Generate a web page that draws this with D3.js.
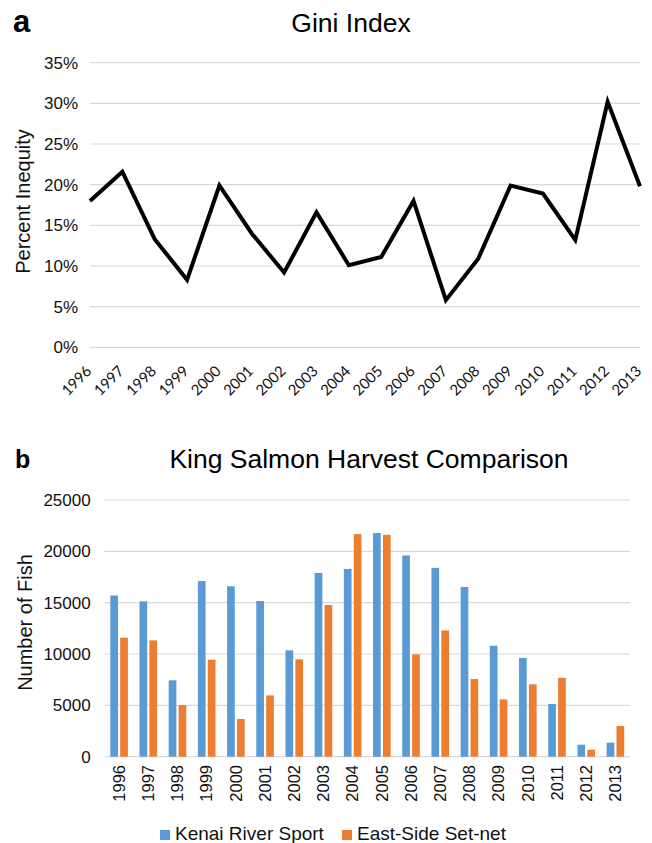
<!DOCTYPE html>
<html>
<head>
<meta charset="utf-8">
<script src="https://cdn.jsdelivr.net/npm/d3@7"></script>
<style>
  html, body { margin: 0; padding: 0; background: #fff; }
  svg { display: block; font-family: "Liberation Sans", Arial, Helvetica, sans-serif; }
</style>
</head>
<body>
<svg id="chart" width="652" height="843"></svg>
<script>
// ---- data ----
const years = ["1996","1997","1998","1999","2000","2001","2002","2003","2004","2005","2006","2007","2008","2009","2010","2011","2012","2013"];
const giniPercent = [18.0, 21.6, 13.3, 8.3, 19.9, 14.0, 9.2, 16.6, 10.1, 11.1, 18.0, 5.8, 10.9, 19.9, 18.9, 13.2, 30.2, 19.8];
const giniTicks = [0, 5, 10, 15, 20, 25, 30, 35];
const kenaiSport = [15700, 15130, 7440, 17100, 16600, 15160, 10360, 17900, 18290, 21780, 19600, 18390, 16530, 10810, 9610, 5130, 1170, 1360];
const eastSideSetnet = [11590, 11330, 5030, 9450, 3670, 5970, 9480, 14770, 21680, 21610, 9970, 12300, 7560, 5580, 7050, 7690, 680, 2990];
const harvestTicks = [0, 5000, 10000, 15000, 20000, 25000];
const seriesNames = ["Kenai River Sport", "East-Side Set-net"];
const seriesColors = ["#5b9bd5", "#ed7d31"];

const svg = d3.select("#chart");
const grid = "#d9d9d9";

// ================= Panel a: Gini Index =================
const ga = svg.append("g");
const xA = d3.scalePoint().domain(years).range([90, 640]);
const yA = d3.scaleLinear().domain([0, 35]).range([347.3, 62.7]);

ga.append("text").attr("x", 13).attr("y", 31.7)
  .attr("font-size", 31).attr("font-weight", "bold").attr("fill", "#000").text("a");
ga.append("text").attr("x", 351).attr("y", 31.7).attr("text-anchor", "middle")
  .attr("font-size", 26.5).attr("fill", "#000").text("Gini Index");

ga.selectAll("line.grid").data(giniTicks).enter().append("line")
  .attr("x1", 90).attr("x2", 640)
  .attr("y1", d => yA(d)).attr("y2", d => yA(d))
  .attr("stroke", grid).attr("stroke-width", 1.2);

ga.selectAll("text.ytick").data(giniTicks).enter().append("text")
  .attr("x", 78).attr("y", d => yA(d)).attr("dy", "0.35em")
  .attr("text-anchor", "end").attr("font-size", 17).attr("fill", "#111")
  .text(d => d + "%");

ga.selectAll("text.xtick").data(years).enter().append("text")
  .attr("transform", d => `translate(${xA(d) + 2.5},372) rotate(-45)`)
  .attr("text-anchor", "end").attr("font-size", 15)
  .attr("font-family", "Lato, 'Open Sans', sans-serif").attr("fill", "#111")
  .text(d => d);

ga.append("text").attr("transform", "translate(29.5,201.5) rotate(-90)")
  .attr("text-anchor", "middle").attr("font-size", 20).attr("fill", "#111")
  .text("Percent Inequity");

const line = d3.line().x((d, i) => xA(years[i])).y(d => yA(d));
ga.append("path").datum(giniPercent)
  .attr("d", line).attr("fill", "none").attr("stroke", "#000")
  .attr("stroke-width", 4).attr("stroke-linejoin", "miter");

// ================= Panel b: King Salmon Harvest =================
const gb = svg.append("g");
const xB = d3.scaleBand().domain(years).range([104.5, 630]).padding(0);
const yB = d3.scaleLinear().domain([0, 25000]).range([756.7, 500]);
const barW = 7.7, barGap = 2.2;

gb.append("text").attr("x", 15).attr("y", 468)
  .attr("font-size", 25).attr("font-weight", "bold").attr("fill", "#000").text("b");
gb.append("text").attr("x", 369).attr("y", 467.7).attr("text-anchor", "middle")
  .attr("font-size", 26.5).attr("fill", "#000").text("King Salmon Harvest Comparison");

gb.selectAll("line.grid").data(harvestTicks).enter().append("line")
  .attr("x1", 104.5).attr("x2", 630)
  .attr("y1", d => yB(d)).attr("y2", d => yB(d))
  .attr("stroke", grid).attr("stroke-width", 1.2);

gb.selectAll("text.ytick").data(harvestTicks).enter().append("text")
  .attr("x", 90.7).attr("y", d => yB(d)).attr("dy", "0.35em")
  .attr("text-anchor", "end").attr("font-size", 17).attr("fill", "#111")
  .text(d => d);

gb.append("text").attr("transform", "translate(32,622.5) rotate(-90)")
  .attr("text-anchor", "middle").attr("font-size", 20).attr("fill", "#111")
  .text("Number of Fish");

const center = d => xB(d) + xB.bandwidth() / 2;

[kenaiSport, eastSideSetnet].forEach((vals, si) => {
  gb.selectAll(null).data(vals).enter().append("rect")
    .attr("x", (d, i) => si === 0 ? center(years[i]) - barGap / 2 - barW : center(years[i]) + barGap / 2)
    .attr("width", barW)
    .attr("y", d => yB(d))
    .attr("height", d => yB(0) - yB(d))
    .attr("fill", seriesColors[si]);
});

gb.selectAll("text.xtick").data(years).enter().append("text")
  .attr("transform", d => `translate(${center(d)},765) rotate(-90)`)
  .attr("dy", "0.35em").attr("text-anchor", "end")
  .attr("font-size", 16.5).attr("fill", "#111")
  .text(d => d);

// legend
const legX = [160, 342];
seriesNames.forEach((name, i) => {
  gb.append("rect").attr("x", legX[i]).attr("y", 830).attr("width", 10).attr("height", 10)
    .attr("fill", seriesColors[i]);
  gb.append("text").attr("x", legX[i] + 15).attr("y", 840)
    .attr("font-size", 19).attr("fill", "#111").text(name);
});
</script>
</body>
</html>
